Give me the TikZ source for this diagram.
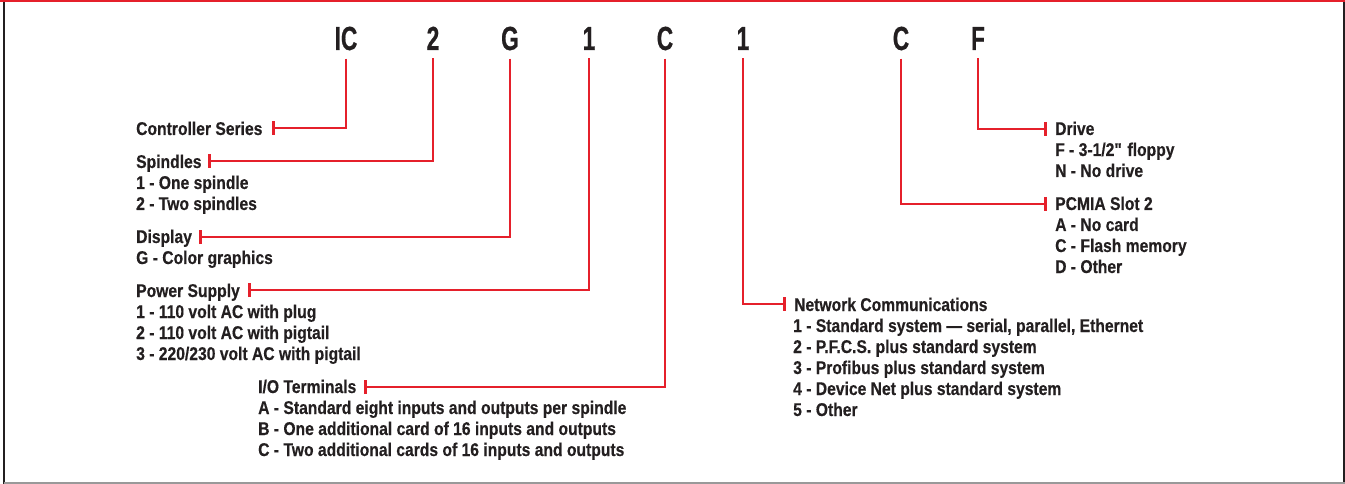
\documentclass[tikz,border=0pt]{standalone}
\usepackage{fontspec}
\setmainfont{Liberation Sans}[FakeStretch=0.85, FakeBold=0.4]
\newfontfamily\topfont{Liberation Sans}[FakeStretch=0.68, FakeBold=0.6]
\usetikzlibrary{arrows.meta}
\definecolor{cred}{HTML}{E5202B}
\definecolor{ctext}{HTML}{231F20}
\begin{document}
\begin{tikzpicture}[x=1bp,y=-1bp,
  code/.style={inner sep=0pt, anchor=base, text=ctext, font=\topfont\bfseries\fontsize{33.5}{33.5}\selectfont},
  lbl/.style={inner sep=0pt, anchor=base west, text=ctext, font=\bfseries\fontsize{18.5}{21}\selectfont},
  conn/.style={draw=cred, line width=1.6bp, -{Bar[width=14bp,line width=3bp]}}]
\useasboundingbox (0,0) rectangle (1345,484);
% frame
\draw[cred, line width=1.8bp] (0,0.9) -- (1345,0.9);
\draw[ctext, line width=2.2bp] (4,1.8) -- (4,484);
\draw[ctext, line width=1.6bp] (1344.2,1.8) -- (1344.2,484);
\draw[black!40, line width=1.6bp] (4,483.2) -- (1345,483.2);
% code letters
\node[code] (ic) at (346,50) {IC};
\node[code] (sp) at (433,50) {2};
\node[code] (di) at (510,50) {G};
\node[code] (ps) at (589,50) {1};
\node[code] (io) at (665,50) {C};
\node[code] (nc) at (743,50) {1};
\node[code] (pc) at (901,50) {C};
\node[code] (dr) at (978,50) {F};
% tick positions
\coordinate (tic) at (272,128);
\coordinate (tsp) at (208,161);
\coordinate (tdi) at (199,237);
\coordinate (tps) at (248,290);
\coordinate (tio) at (364,387);
\coordinate (tnc) at (786,304);
\coordinate (tdr) at (1047,129);
\coordinate (tpc) at (1047,204);
% labels
\node[lbl] (lic) at (136,135) {Controller Series};
\node[lbl] (lsp) at (136,168) {Spindles};
\node[lbl] (lsp1) at (136,189) {1 - One spindle};
\node[lbl] (lsp2) at (136,210) {2 - Two spindles};
\node[lbl] (ldi) at (136,243) {Display};
\node[lbl] (ldi1) at (136,264) {G - Color graphics};
\node[lbl] (lps) at (136,297) {Power Supply};
\node[lbl] (lps1) at (136,318) {1 - 110 volt AC with plug};
\node[lbl] (lps2) at (136,339) {2 - 110 volt AC with pigtail};
\node[lbl] (lps3) at (136,360) {3 - 220/230 volt AC with pigtail};
\node[lbl] (lio) at (258,393) {I/O Terminals};
\node[lbl] (lio1) at (258,414) {A - Standard eight inputs and outputs per spindle};
\node[lbl] (lio2) at (258,435) {B - One additional card of 16 inputs and outputs};
\node[lbl] (lio3) at (258,456) {C - Two additional cards of 16 inputs and outputs};
\node[lbl] (lnc) at (794,311) {Network Communications};
\node[lbl] (lnc1) at (793,332) {1 - Standard system — serial, parallel, Ethernet};
\node[lbl] (lnc2) at (793,353) {2 - P.F.C.S. plus standard system};
\node[lbl] (lnc3) at (793,374) {3 - Profibus plus standard system};
\node[lbl] (lnc4) at (793,395) {4 - Device Net plus standard system};
\node[lbl] (lnc5) at (793,416) {5 - Other};
\node[lbl] (ldr) at (1055,135) {Drive};
\node[lbl] (ldr1) at (1055,156) {F - 3-1/2\textquotedbl{} floppy};
\node[lbl] (ldr2) at (1055,177) {N - No drive};
\node[lbl] (lpc) at (1055,210) {PCMIA Slot 2};
\node[lbl] (lpc1) at (1055,231) {A - No card};
\node[lbl] (lpc2) at (1055,252) {C - Flash memory};
\node[lbl] (lpc3) at (1055,273) {D - Other};
% connectors
\draw[conn] (ic.south) ++(0,8) |- (tic);
\draw[conn] (sp.south) ++(0,8) |- (tsp);
\draw[conn] (di.south) ++(0,8) |- (tdi);
\draw[conn] (ps.south) ++(0,8) |- (tps);
\draw[conn] (io.south) ++(0,8) |- (tio);
\draw[conn] (nc.south) ++(0,8) |- (tnc);
\draw[conn] (pc.south) ++(0,8) |- (tpc);
\draw[conn] (dr.south) ++(0,8) |- (tdr);
\end{tikzpicture}
\end{document}
